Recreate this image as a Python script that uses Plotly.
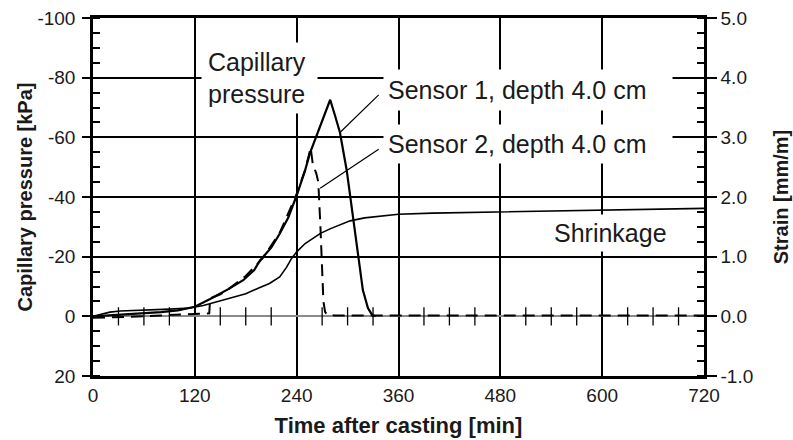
import plotly.graph_objects as go

# ---------------- data ----------------
time_s1 = [0, 20, 40, 60, 80, 100, 120, 138, 150, 160, 177, 190, 197, 210, 220, 230,
           240, 250, 256, 264, 272, 279.5, 285, 291, 299, 307, 313, 318, 324, 329, 333]
pressure_s1 = [0, -0.3, -0.6, -1.0, -1.4, -2.0, -3.2, -5.8, -7.6, -9.2, -12.1, -15.5, -18.8, -23, -27.7, -33,
               -40.5, -49, -55, -61, -67, -72.6, -67.5, -61.6, -48.9, -32.2, -18.8, -8.8, -2.8, -0.4, 0]

time_s2 = [0, 20, 40, 60, 80, 100, 120, 137, 138, 150, 160, 180, 200, 220, 240, 250,
           256.5, 259, 263, 265.5, 268, 271.5, 273.5, 276, 285, 360, 480, 600, 720]
pressure_s2 = [0.5, 0.4, 0.2, 0, -0.3, -0.6, -0.8, -1.0, -6.0, -7.4, -9.2, -13.5, -19.5, -28, -41, -49,
               -56.5, -51, -48, -45, -30, -5, -1.5, -0.5, -0.3, -0.3, -0.5, -0.4, -0.3]

time_shr = [0, 10, 20, 32, 60, 90, 114, 130, 145, 160, 180, 196, 208, 220, 228, 234, 240, 250,
            260, 268, 280, 290, 303, 320, 340, 360, 400, 480, 540, 600, 660, 720]
strain_shr = [0, 0.04, 0.07, 0.09, 0.10, 0.12, 0.14, 0.18, 0.24, 0.30, 0.38, 0.48, 0.55, 0.66, 0.82, 0.97, 1.08, 1.22,
              1.32, 1.39, 1.47, 1.53, 1.60, 1.65, 1.68, 1.71, 1.73, 1.75, 1.76, 1.77, 1.79, 1.81]

x_ticks = [0, 120, 240, 360, 480, 600, 720]
x_tick_labels = ["0", "120", "240", "360", "480", "600", "720"]
y_ticks = [-100, -80, -60, -40, -20, 0, 20]
y_tick_labels = ["-100", "-80", "-60", "-40", "-20", "0", "20"]
y2_ticks = [5, 4, 3, 2, 1, 0, -1]
y2_tick_labels = ["5.0", "4.0", "3.0", "2.0", "1.0", "0.0", "-1.0"]
zero_line_ticks = [t for t in range(30, 720, 30) if t % 120 != 0]

FONT = "Liberation Sans, Arial, sans-serif"
TXT = "#1a1a1a"

fig = go.Figure()

fig.add_trace(go.Scatter(x=time_shr, y=strain_shr, yaxis="y2", mode="lines",
                         line=dict(color="black", width=1.6), hoverinfo="skip", showlegend=False))
fig.add_trace(go.Scatter(x=time_s2, y=pressure_s2, mode="lines",
                         line=dict(color="black", width=2, dash="12px,7px"), hoverinfo="skip", showlegend=False))
fig.add_trace(go.Scatter(x=time_s1, y=pressure_s1, mode="lines",
                         line=dict(color="black", width=2.2), hoverinfo="skip", showlegend=False))
fig.add_trace(go.Scatter(x=zero_line_ticks, y=[0] * len(zero_line_ticks), mode="markers",
                         marker=dict(symbol="line-ns", size=13, line=dict(color="black", width=1.3)),
                         hoverinfo="skip", showlegend=False, cliponaxis=False))

annotations = [
    dict(x=196.4, y=-79.75, xref="x", yref="y", text="Capillary<br>pressure", showarrow=False,
         align="left", width=103, height=58, borderpad=6, bgcolor="white",
         font=dict(size=25, color=TXT, family=FONT)),
    dict(x=513, y=-75.7, xref="x", yref="y", text="Sensor 1, depth 4.0 cm", showarrow=False,
         align="left", width=280, height=32, borderpad=4, bgcolor="white",
         font=dict(size=25, color=TXT, family=FONT)),
    dict(x=513, y=-57.7, xref="x", yref="y", text="Sensor 2, depth 4.0 cm", showarrow=False,
         align="left", width=280, height=30, borderpad=4, bgcolor="white",
         font=dict(size=25, color=TXT, family=FONT)),
    dict(x=609.7, y=-27.9, xref="x", yref="y", text="Shrinkage", showarrow=False,
         borderpad=4, bgcolor="white", font=dict(size=25, color=TXT, family=FONT)),
    dict(x=291.3, y=-61.7, ax=338.4, ay=-74.7, xref="x", yref="y", axref="x", ayref="y",
         text="", showarrow=True, arrowhead=0, arrowwidth=1.2, arrowcolor="black"),
    dict(x=267.7, y=-42.9, ax=338.4, ay=-56.3, xref="x", yref="y", axref="x", ayref="y",
         text="", showarrow=True, arrowhead=0, arrowwidth=1.2, arrowcolor="black"),
]

fig.update_layout(
    width=793, height=440,
    margin=dict(l=93, r=89, t=18, b=64, autoexpand=False),
    paper_bgcolor="white", plot_bgcolor="white",
    font=dict(family=FONT, color=TXT),
    showlegend=False,
    annotations=annotations,
    xaxis=dict(
        range=[0, 720], tickvals=x_ticks, ticktext=x_tick_labels, automargin=False,
        showgrid=True, gridcolor="black", gridwidth=2.2,
        showline=True, linecolor="black", linewidth=2.5, mirror=True,
        ticks="", ticklabelstandoff=0, zeroline=False,
        tickfont=dict(size=19, color=TXT, family=FONT),
        title=dict(text="<b>Time after casting [min]</b>", font=dict(size=22, color=TXT, family=FONT), standoff=14),
    ),
    yaxis=dict(
        range=[20, -100], tickvals=y_ticks, ticktext=y_tick_labels, automargin=False,
        showgrid=True, gridcolor="black", gridwidth=2.2,
        zeroline=True, zerolinecolor="#8a8a8a", zerolinewidth=2,
        showline=True, linecolor="black", linewidth=2.5,
        ticks="outside", ticklen=8, tickwidth=2, tickcolor="black", ticklabelstandoff=3,
        minor=dict(dtick=5, tick0=0, ticks="inside", ticklen=7, tickwidth=1.5, tickcolor="black", showgrid=False),
        tickfont=dict(size=19, color=TXT, family=FONT),
        title=dict(text="<b>Capillary pressure [kPa]</b>", font=dict(size=20, color=TXT, family=FONT), standoff=0),
    ),
    yaxis2=dict(
        range=[-1, 5], tickvals=y2_ticks, ticktext=y2_tick_labels, automargin=False,
        overlaying="y", side="right", anchor="x",
        showgrid=False, zeroline=False,
        showline=True, linecolor="black", linewidth=2.5,
        ticks="outside", ticklen=10, tickwidth=2, tickcolor="black", ticklabelstandoff=0,
        minor=dict(dtick=0.25, tick0=0, ticks="inside", ticklen=7, tickwidth=1.5, tickcolor="black", showgrid=False),
        tickfont=dict(size=19, color=TXT, family=FONT),
        title=dict(text="<b>Strain [mm/m]</b>", font=dict(size=20, color=TXT, family=FONT), standoff=22),
    ),
)

fig.write_html("out.html", config={"displayModeBar": False},
               post_script="document.body.style.margin='0';document.body.style.overflow='hidden';")
